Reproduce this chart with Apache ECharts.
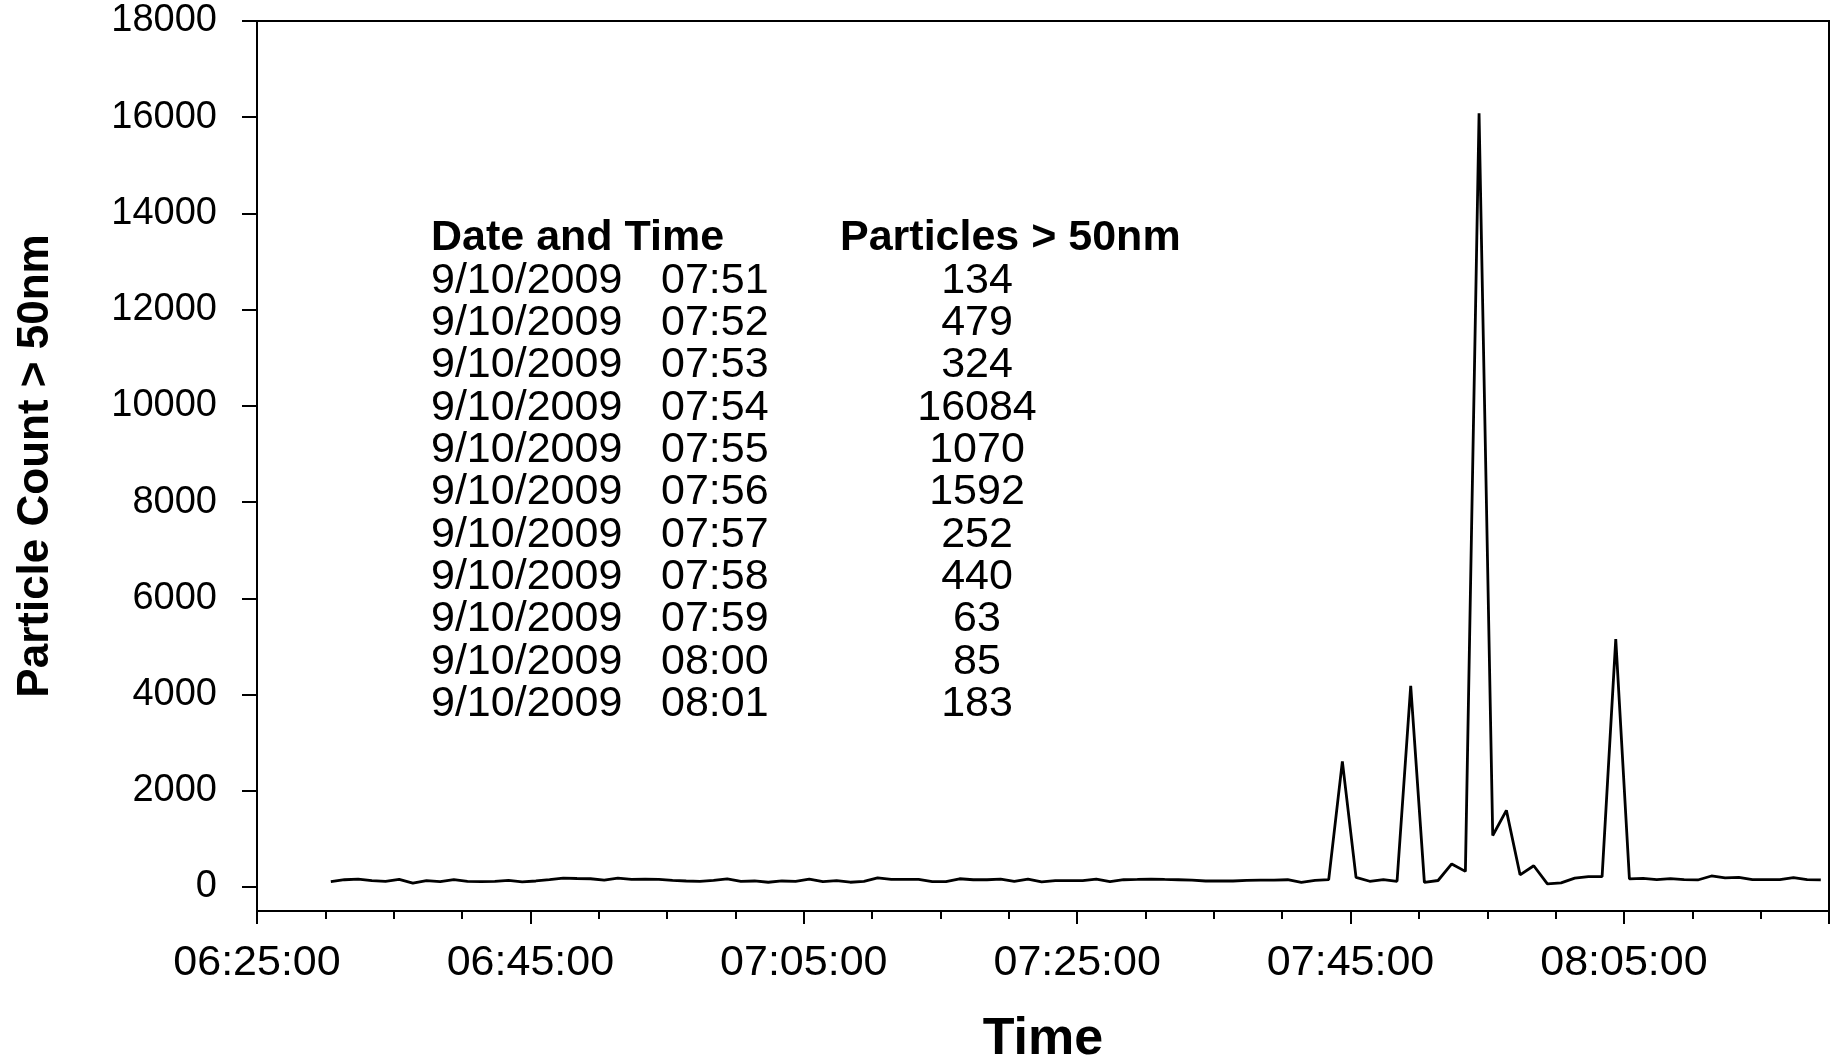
<!DOCTYPE html>
<html><head><meta charset="utf-8">
<script src="https://cdn.jsdelivr.net/npm/echarts@6/dist/echarts.min.js"></script>
<style>html,body{margin:0;padding:0;background:#fff}#c{width:1835px;height:1058px}</style>
</head><body><div id="c"></div>
<script>
// ---- data ----
const AXIS_START = '06:25';
const AXIS_END = '08:20';
const SAMPLE_START = '06:30:24';   // first sample, one sample per minute
const PARTICLES = [
  111,150,163,130,117,156,78,130,111,150,
  117,111,117,137,104,124,150,183,176,170,
  143,183,156,163,156,137,124,117,137,170,
  117,124,98,124,117,163,111,130,98,117,
  189,156,156,156,111,111,170,150,150,163,
  117,163,104,130,130,130,163,111,150,156,
  163,156,150,143,124,124,124,137,143,143,
  150,97,138,152,2610,200,118,152,118,4180,
  97,134,479,324,16084,1070,1592,252,440,63,
  85,183,215,215,5150,166,180,152,173,152,
  145,228,187,200,152,152,152,194,152,145
];
const Y_TICKS = [0,2000,4000,6000,8000,10000,12000,14000,16000,18000];
const Y_MIN = -500, Y_MAX = 18000;
const X_LABELS = ['06:25:00','06:45:00','07:05:00','07:25:00','07:45:00','08:05:00'];
const TABLE_HEADERS = ['Date and Time', 'Particles > 50nm'];
const TABLE_DATE = '9/10/2009';
const TABLE_TIMES = ['07:51','07:52','07:53','07:54','07:55','07:56','07:57','07:58','07:59','08:00','08:01'];
const Y_NAME = 'Particle Count > 50nm';
const X_NAME = 'Time';

// ---- helpers ----
function toMin(t){const p=t.split(':').map(Number);return p[0]*60+p[1]+(p[2]||0)/60;}
const x0 = toMin(AXIS_START), xMax = toMin(AXIS_END) - x0;
const s0 = toMin(SAMPLE_START);
const seriesData = PARTICLES.map((v,i)=>[s0 + i - x0, v]);
function valueAt(t){const idx = Math.round(toMin(t) - Math.floor(s0)); return PARTICLES[idx];}

const FONT = "'Liberation Sans', Arial, sans-serif";
const chart = echarts.init(document.getElementById('c'), null, {renderer:'canvas'});

// table graphic
const tbl = [];
const TX = 431, TX_TIME = 661, TX_VAL = 977, TY_HEAD = 238, TY_ROW = 281, ROW_H = 42.3;
tbl.push({type:'text', x:TX, y:TY_HEAD, style:{text:TABLE_HEADERS[0], font:"bold 43px "+FONT, fill:'#000', textVerticalAlign:'middle'}});
tbl.push({type:'text', x:840, y:TY_HEAD, style:{text:TABLE_HEADERS[1], font:"bold 43px "+FONT, fill:'#000', textVerticalAlign:'middle'}});
TABLE_TIMES.forEach((t,k)=>{
  const y = TY_ROW + ROW_H*k;
  tbl.push({type:'text', x:TX, y:y, style:{text:TABLE_DATE, font:"43px "+FONT, fill:'#000', textVerticalAlign:'middle'}});
  tbl.push({type:'text', x:TX_TIME, y:y, style:{text:t, font:"43px "+FONT, fill:'#000', textVerticalAlign:'middle'}});
  tbl.push({type:'text', x:TX_VAL, y:y, style:{text:String(valueAt(t)), font:"43px "+FONT, fill:'#000', textAlign:'center', textVerticalAlign:'middle'}});
});

const option = {
  animation:false,
  backgroundColor:'#fff',
  grid:{left:257, top:21, right:6, bottom:147, show:true, borderColor:'#000', borderWidth:2, backgroundColor:'transparent', containLabel:false, outerBoundsMode:'none'},
  xAxis:[
    {type:'value', min:0, max:xMax, interval:5, position:'bottom',
     axisLine:{show:true, onZero:false, lineStyle:{color:'#000', width:2}},
     axisTick:{show:true, length:8, lineStyle:{color:'#000', width:2}},
     axisLabel:{show:false}, splitLine:{show:false}},
    {type:'value', min:0, max:xMax, interval:20, position:'bottom',
     axisLine:{show:false, onZero:false},
     axisTick:{show:true, length:13, lineStyle:{color:'#000', width:2}},
     axisLabel:{show:true, margin:31, fontSize:43, fontFamily:FONT, color:'#000',
       formatter:function(v){ return (v % 20 === 0 && X_LABELS[v/20]) ? X_LABELS[v/20] : ''; }},
     splitLine:{show:false},
     name:X_NAME, nameLocation:'middle', nameGap:103,
     nameTextStyle:{fontSize:52, fontWeight:'bold', fontFamily:FONT, color:'#000'}}
  ],
  yAxis:{type:'value', min:Y_MIN, max:Y_MAX,
    axisLine:{show:true, onZero:false, lineStyle:{color:'#000', width:2}},
    axisTick:{show:true, length:15, customValues:Y_TICKS, lineStyle:{color:'#000', width:2}},
    axisLabel:{show:true, customValues:Y_TICKS, margin:40, fontSize:38, fontFamily:FONT, color:'#000',
      formatter:function(v){ return String(v); }},
    splitLine:{show:false},
    name:Y_NAME, nameLocation:'middle', nameGap:199,
    nameTextStyle:{fontSize:44, fontWeight:'bold', fontFamily:FONT, color:'#000'}},
  series:[{type:'line', xAxisIndex:0, data:seriesData, showSymbol:false, symbol:'none',
    lineStyle:{color:'#000', width:2.8}, itemStyle:{color:'#000'}}],
  graphic:tbl
};
chart.setOption(option);
</script></body></html>
